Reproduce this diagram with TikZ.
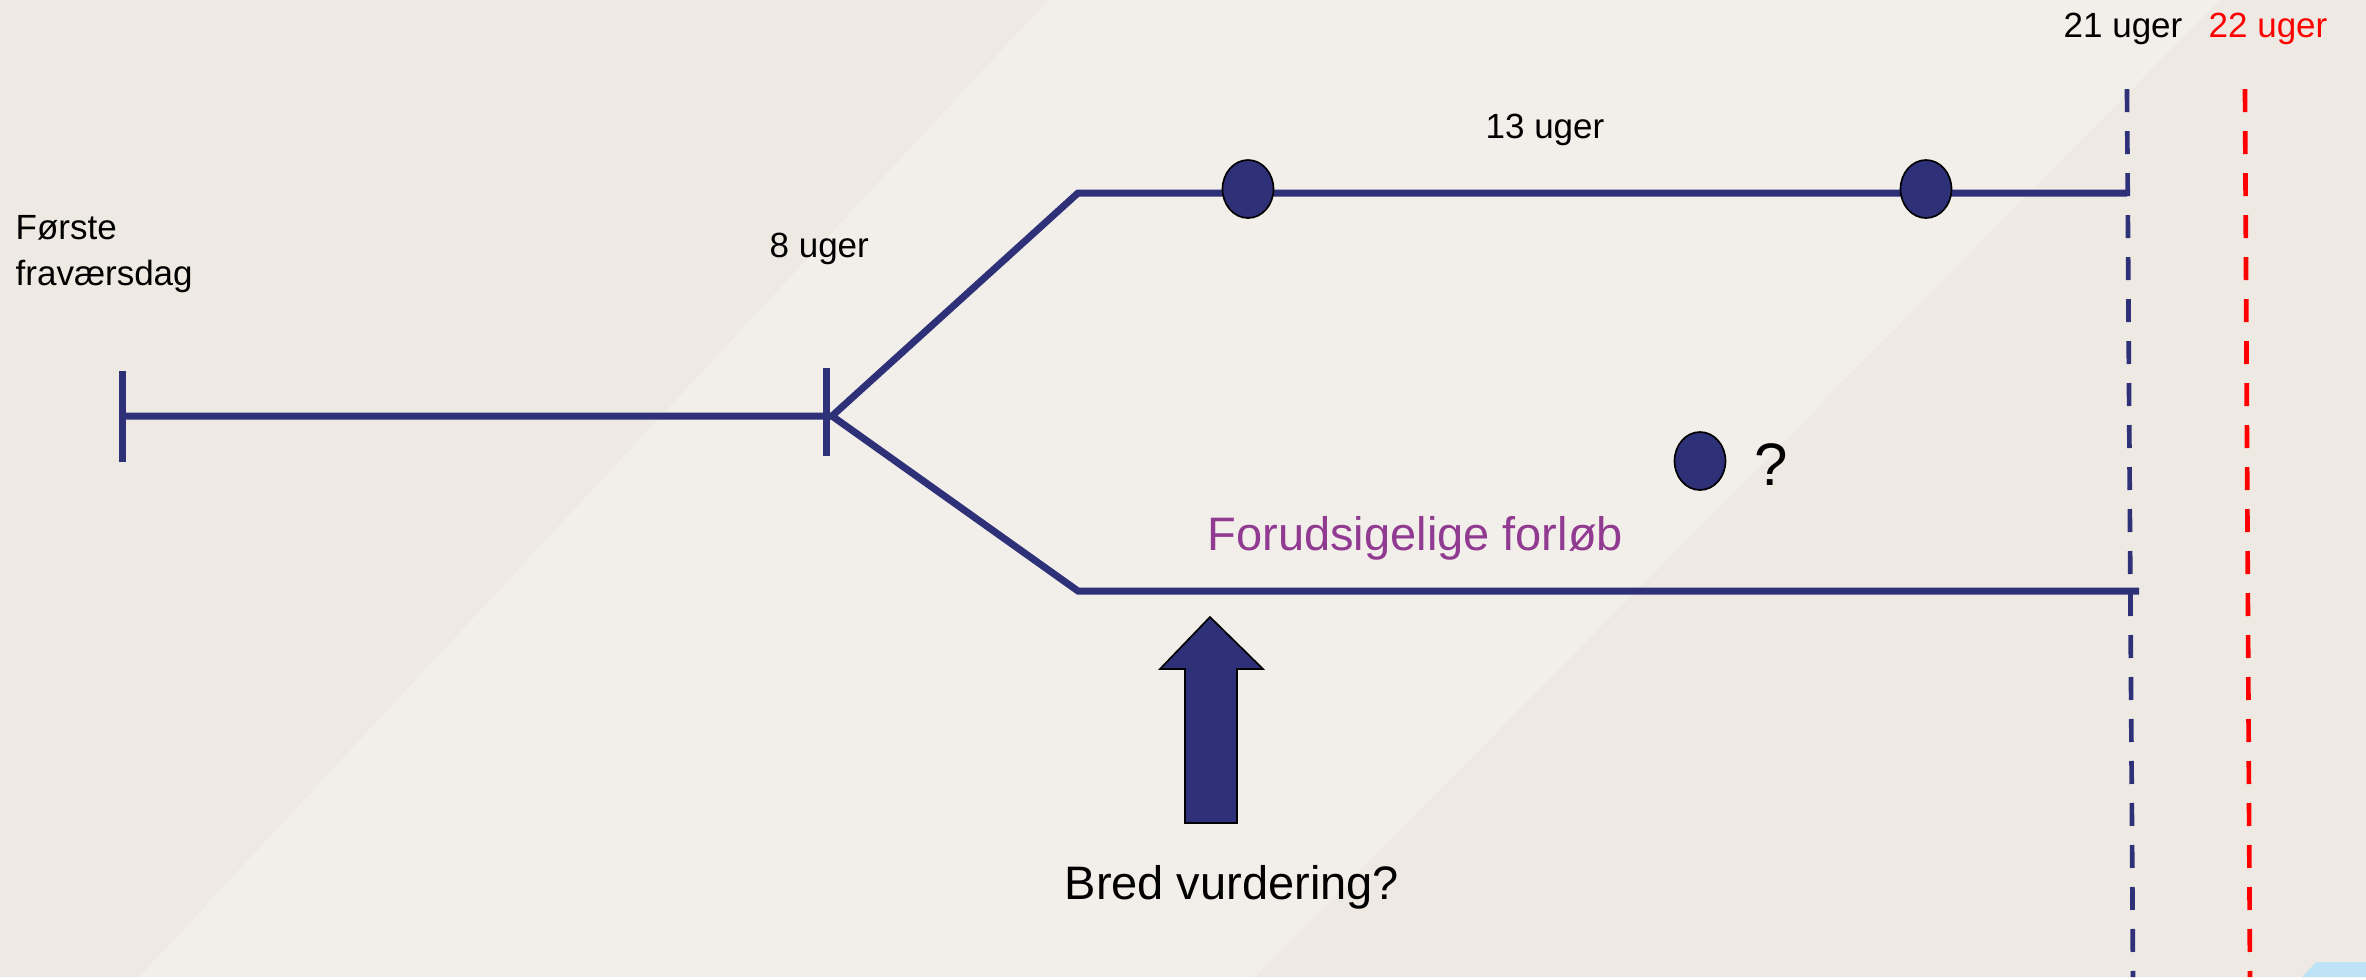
\documentclass[tikz,border=0pt]{standalone}
\usepackage{fontspec}
\setmainfont{Liberation Sans}
\usetikzlibrary{shapes.geometric, arrows}
\definecolor{navy}{RGB}{46,48,120}
\definecolor{slidebg}{RGB}{242,238,233}
\definecolor{slideshade}{RGB}{238,234,227}
\definecolor{slidepurple}{RGB}{145,58,145}
\definecolor{cornerblue}{RGB}{190,226,246}
\tikzstyle{track} = [line width=2.1pt, navy]
\tikzstyle{tick} = [line width=2.1pt, navy]
\tikzstyle{bigdot} = [shape=ellipse, minimum width=15.3pt, minimum height=17.4pt, inner sep=0, draw=black, line width=0.5pt, fill=navy]
\tikzstyle{weekline} = [line width=1.4pt, dash pattern=on 6.9pt off 5.7pt]
\tikzstyle{smalltext} = [inner sep=0, anchor=base west, font=\fontsize{10.5}{13.8}\selectfont]
\tikzstyle{bigtext} = [inner sep=0, anchor=base west, font=\fontsize{14.1}{17}\selectfont]

\begin{document}
\begin{tikzpicture}[x=0.3pt,y=-0.3pt]
% slide background
\fill[slidebg] (0,0) rectangle (2366,977);
\fill[slideshade] (0,0)--(1048,0)--(139,977)--(0,977)--cycle;
\fill[slideshade] (2220,0)--(2366,0)--(2366,977)--(1255,977)--cycle;
\fill[cornerblue] (2302,977)--(2316,962)--(2366,962)--(2366,977)--cycle;

\coordinate (start) at (122,416);
\coordinate (split) at (832,416);
\coordinate (upbend) at (1078,193);
\coordinate (upend) at (2127,193);
\coordinate (lowbend) at (1078,591);
\coordinate (lowend) at (2139,591);

\draw[track] (start)--(split)--(upbend)--(upend);
\draw[track] (split)--(lowbend)--(lowend);
\draw[tick] (122,371)--(122,462);
\draw[tick] (826,368)--(826,456);

% week limits
\draw[weekline,navy] (2127,89)--(2133,977);
\draw[weekline,red] (2245,89)--(2250,977);

\foreach \x/\y/\n in {1248/189/dotA,1926/189/dotB,1700/461/dotC}{
	\node[bigdot] (\n) at (\x,\y) {};}

\node[inner sep=0, anchor=north west, align=left, font=\fontsize{10.5}{13.8}\selectfont] (first) at (15,215) {Første\\fraværsdag};
\node[smalltext] (w8) at (769,257) {8 uger};
\node[smalltext] (w13) at (1485,138) {13 uger};
\node[smalltext] (w21) at (2063,37) {21 uger};
\node[smalltext,red] (w22) at (2208,37) {22 uger};
\node[inner sep=0, anchor=base west, font=\fontsize{18}{21}\selectfont] (quest) at (1754,485) {?};
\node[bigtext,slidepurple] (forl) at (1207,550) {Forudsigelige forløb};
\node[bigtext] (bred) at (1064,899) {Bred vurdering?};

% block arrow
\filldraw[fill=navy, draw=black, line width=0.5pt] (1210,617)--(1263,669)--(1237,669)--(1237,823)--(1185,823)--(1185,669)--(1160,669)--cycle;
\end{tikzpicture}
\end{document}
